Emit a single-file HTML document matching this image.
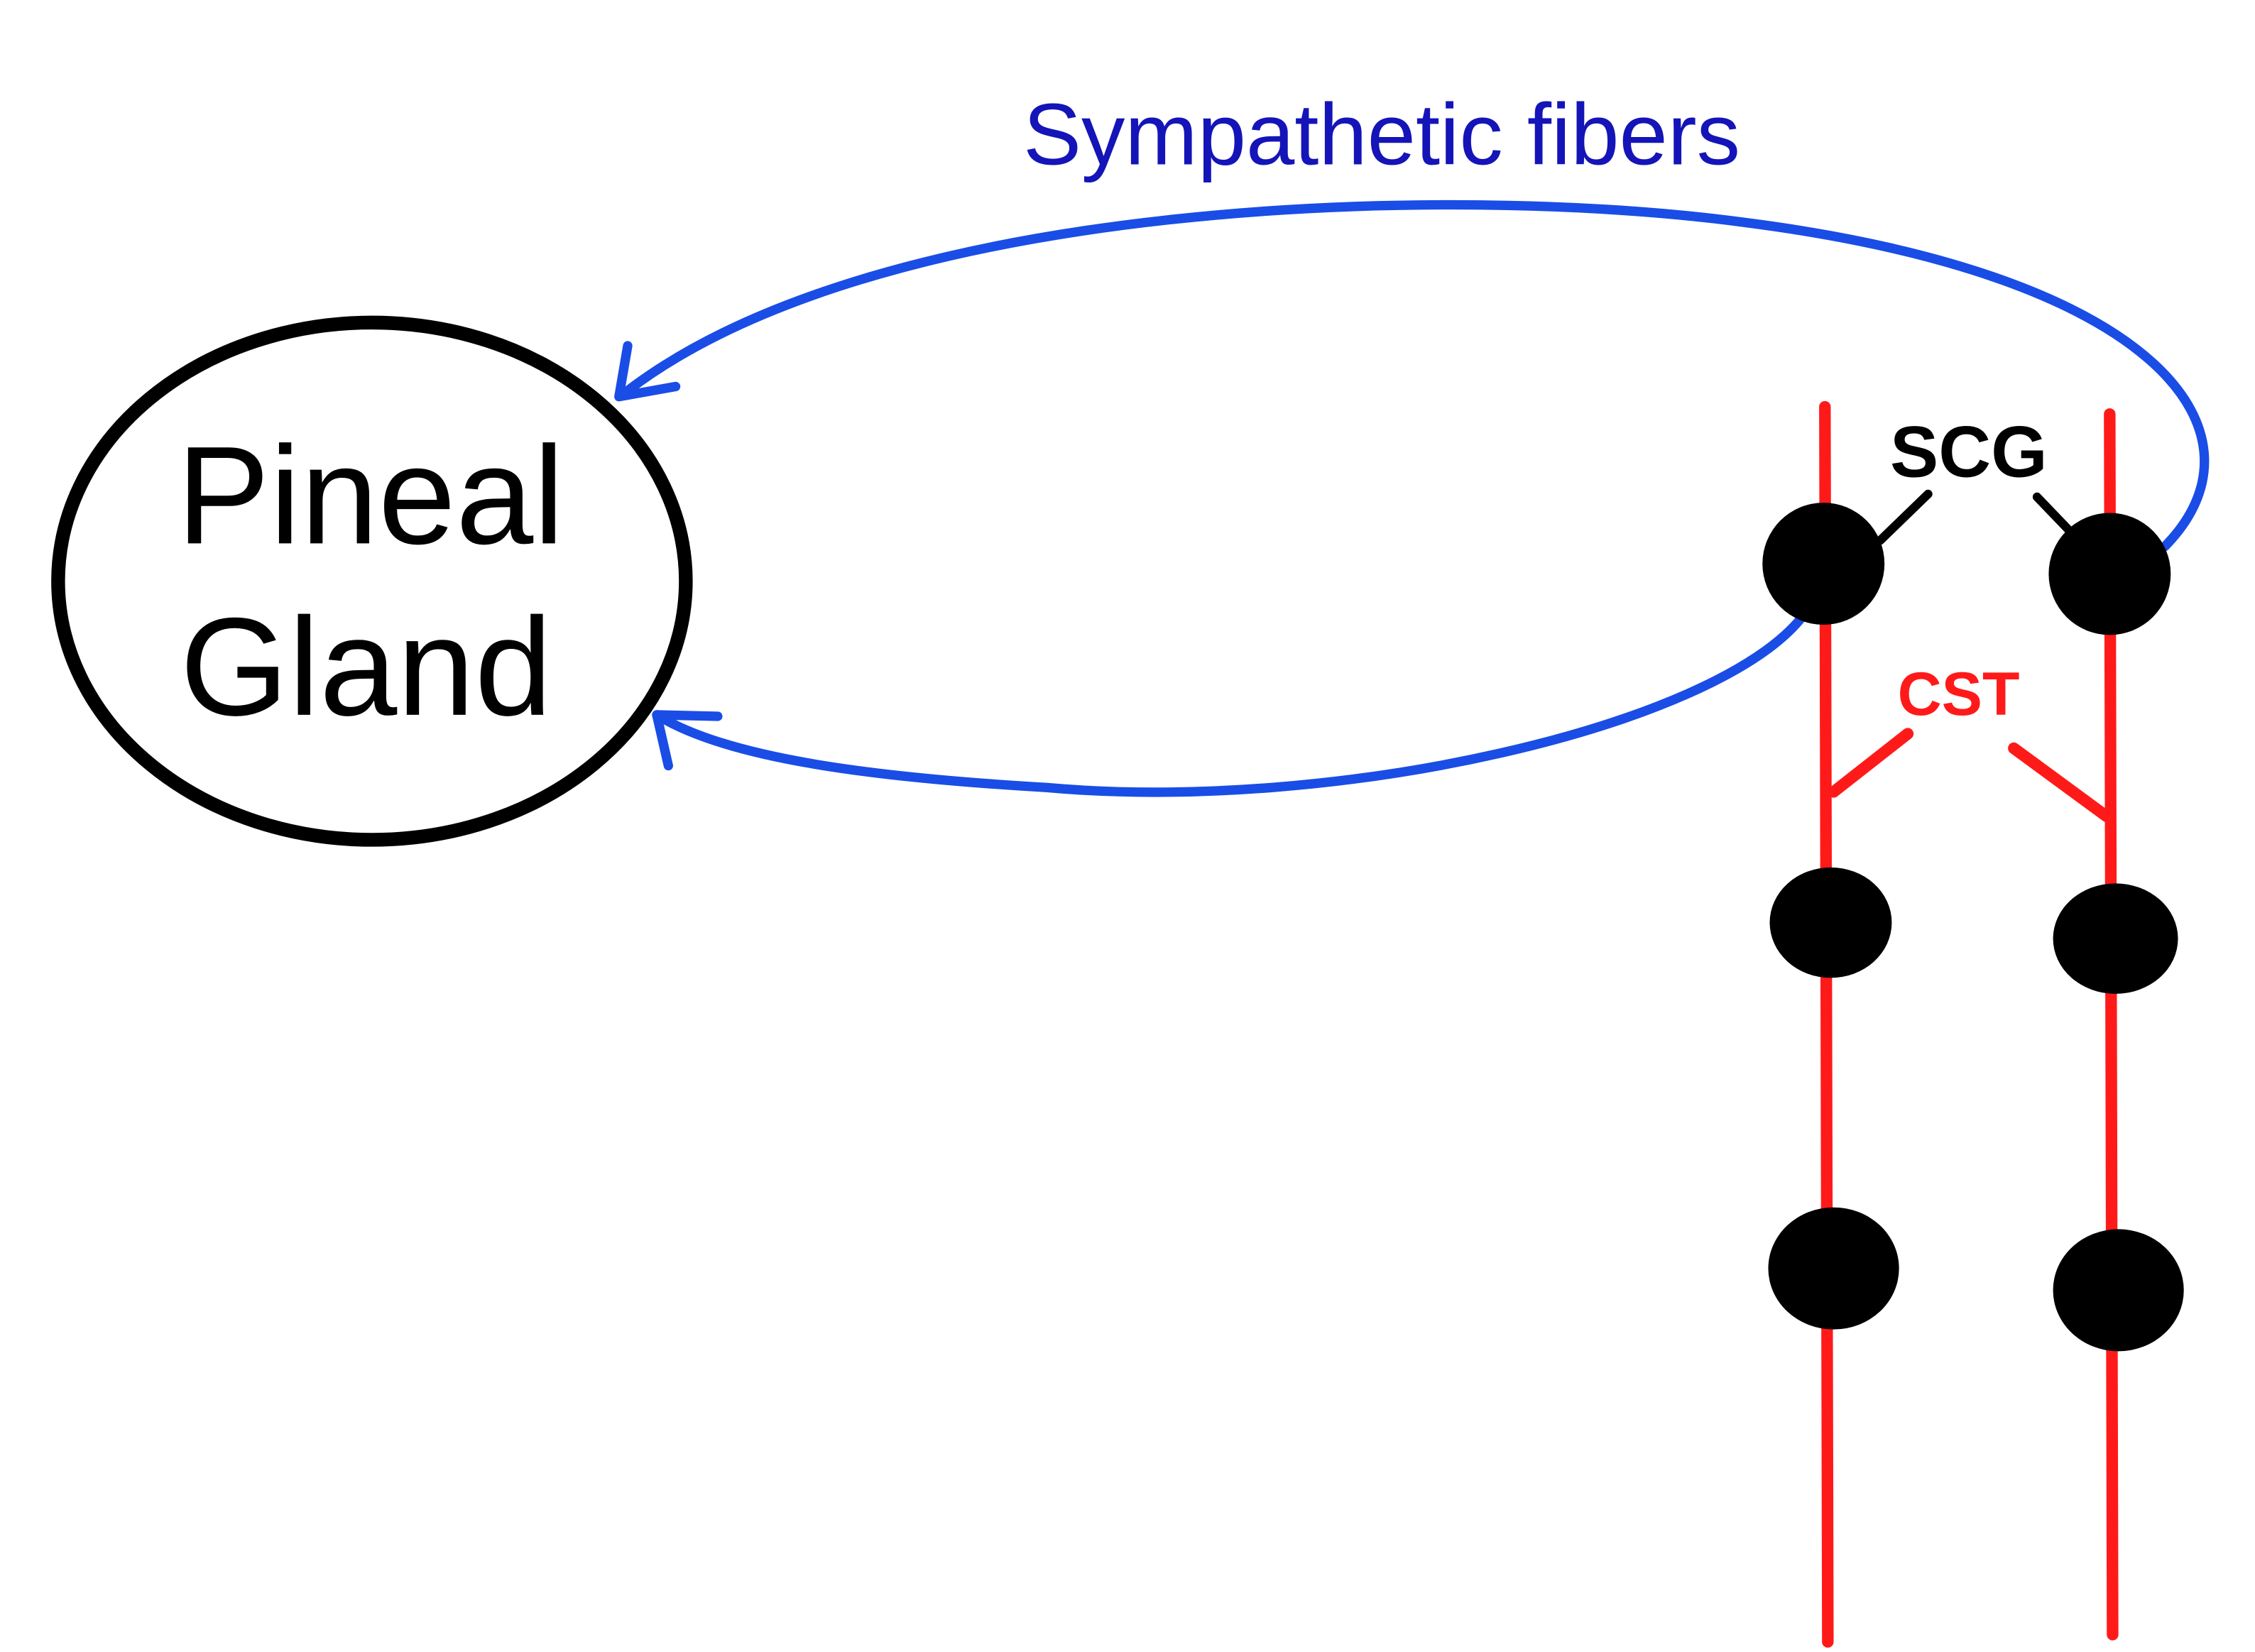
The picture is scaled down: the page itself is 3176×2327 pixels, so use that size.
<!DOCTYPE html>
<html><head><meta charset="utf-8"><style>
html,body{margin:0;padding:0;background:#fff;width:3176px;height:2327px;overflow:hidden}
svg{display:block}
</style></head><body>
<svg width="3176" height="2327" viewBox="0 0 1552 1137" preserveAspectRatio="none" xmlns="http://www.w3.org/2000/svg">
<rect width="1552" height="1137" fill="#fff"/>
<ellipse cx="256" cy="400" rx="216" ry="178" fill="none" stroke="#000" stroke-width="9.5"/>
<text x="255" y="374" font-family="Liberation Sans, sans-serif" font-size="96" text-anchor="middle" fill="#000">Pineal</text>
<text x="252" y="492" font-family="Liberation Sans, sans-serif" font-size="96" text-anchor="middle" fill="#000">Gland</text>
<text x="951" y="113" font-family="Liberation Sans, sans-serif" font-size="60" text-anchor="middle" fill="#1414b8">Sympathetic fibers</text>
<g fill="none" stroke="#1a4de6" stroke-width="6.5" stroke-linecap="round" stroke-linejoin="round">
<path d="M1490,376 C1565,300 1490,190 1200,153 C1000,126 600,136 428,272"/>
<path d="M432,238 L426,273 L465,266"/>
<path d="M1240,425 C1180,500 920,560 720,542 C600,535 500,522 452,492"/>
<path d="M494,493 L452,492 L460,527"/>
</g>
<g stroke="#ff1a1a" stroke-width="8" stroke-linecap="round">
<line x1="1256" y1="280" x2="1258" y2="1130"/>
<line x1="1452" y1="285" x2="1454" y2="1125"/>
<line x1="1262" y1="545" x2="1313" y2="505"/>
<line x1="1386" y1="515" x2="1450" y2="562"/>
</g>
<g stroke="#000" stroke-width="6" stroke-linecap="round">
<line x1="1294" y1="372" x2="1327" y2="340"/>
<line x1="1402" y1="342" x2="1425" y2="366"/>
</g>
<g fill="#000">
<ellipse cx="1255" cy="388" rx="42" ry="42"/>
<ellipse cx="1452" cy="395" rx="42" ry="42"/>
<ellipse cx="1260" cy="635" rx="42" ry="38"/>
<ellipse cx="1456" cy="646" rx="43" ry="38"/>
<ellipse cx="1262" cy="873" rx="45" ry="42"/>
<ellipse cx="1458" cy="888" rx="45" ry="42"/>
</g>
<text x="1355" y="328" font-family="Liberation Sans, sans-serif" font-weight="bold" font-size="50" text-anchor="middle" fill="#000">SCG</text>
<text x="1348" y="492" font-family="Liberation Sans, sans-serif" font-weight="bold" font-size="42" text-anchor="middle" fill="#ff1a1a">CST</text>
</svg>
</body></html>
